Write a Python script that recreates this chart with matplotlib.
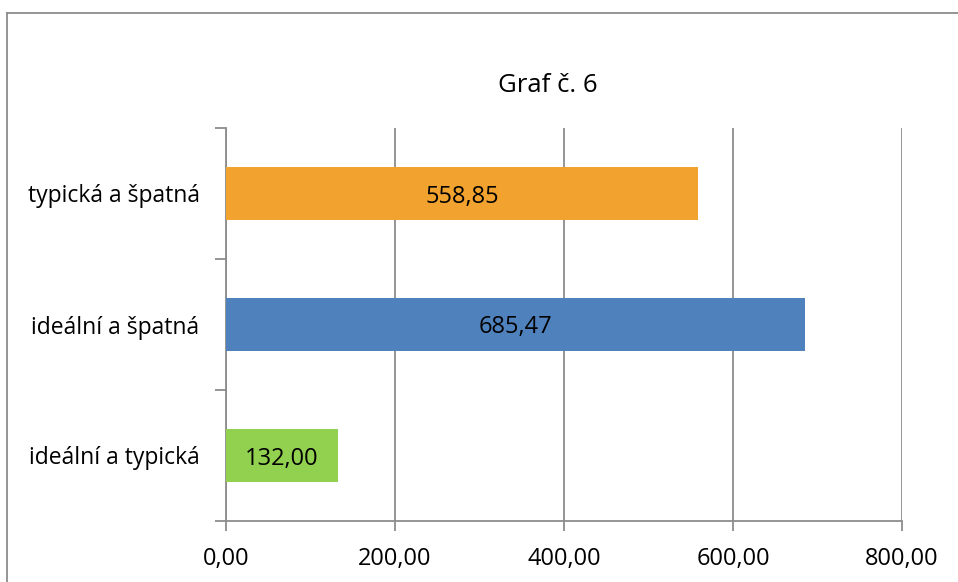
import matplotlib
matplotlib.use("Agg")
import matplotlib.pyplot as plt
from matplotlib.ticker import FixedLocator, FuncFormatter
from matplotlib.lines import Line2D

plt.rcParams['font.family'] = ['Open Sans', 'DejaVu Sans']

categories = ["ideální a typická", "ideální a špatná", "typická a špatná"]
values = [132.00, 685.47, 558.85]
colors = ["#92D050", "#4F81BD", "#F2A22F"]
x_ticks = [0, 200, 400, 600, 800]
title = "Graf č. 6"

def cz(v, _=None):
    return f"{v:.2f}".replace(".", ",")

fig = plt.figure(figsize=(9.58, 5.82), dpi=100)
ax = fig.add_axes([226 / 958, 1 - 521 / 582, 676 / 958, 393 / 582])

pos = list(range(len(categories)))
bars = ax.barh(pos, values, height=0.4, color=colors, zorder=3)
for b, v in zip(bars, values):
    ax.text(v / 2, b.get_y() + b.get_height() / 2, cz(v),
            ha="center", va="center_baseline", fontsize=17, color="black",
            zorder=4)

ax.set_xlim(0, 800)
ax.set_ylim(-0.5, len(categories) - 0.5)

grid_c = "#8C8C8C"
ax.xaxis.set_major_locator(FixedLocator(x_ticks))
ax.xaxis.set_major_formatter(FuncFormatter(cz))
ax.grid(axis="x", color=grid_c, linewidth=1.3, zorder=0)
ax.tick_params(axis="x", length=7, width=1.3, color=grid_c, pad=12,
               labelsize=17)

ax.set_yticks(pos)
ax.set_yticklabels(categories)
ax.set_yticks([p - 0.5 for p in pos] + [len(categories) - 0.5], minor=True)
ax.tick_params(axis="y", which="major", length=0, pad=19, labelsize=16.5)
ax.tick_params(axis="y", which="minor", length=8, width=1.3, color=grid_c)

for side in ("top", "right"):
    ax.spines[side].set_visible(False)
for side in ("left", "bottom"):
    ax.spines[side].set_color(grid_c)
    ax.spines[side].set_linewidth(1.3)

# outer chart-area border (top and left edges)
fig.add_artist(Line2D([7 / 958, 7 / 958], [0, 1 - 13 / 582],
                      transform=fig.transFigure, color="#8C8C8C", lw=1.3))
fig.add_artist(Line2D([7 / 958, 1], [1 - 13 / 582, 1 - 13 / 582],
                      transform=fig.transFigure, color="#8C8C8C", lw=1.3))

fig.text(548 / 958, 1 - 86 / 582, title, ha="center", va="center",
         fontsize=18.5)

fig.savefig("out.png", dpi=100)
